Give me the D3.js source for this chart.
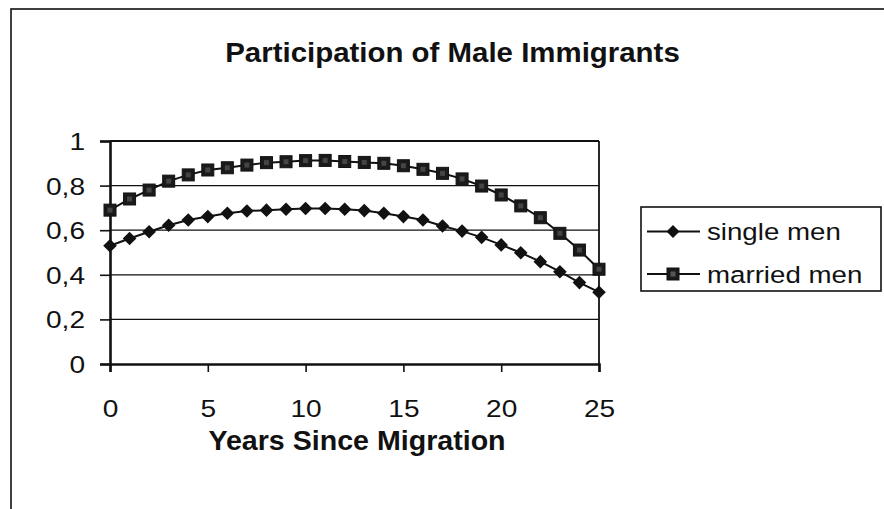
<!DOCTYPE html>
<html>
<head>
<meta charset="utf-8">
<script src="https://cdn.jsdelivr.net/npm/d3@7"></script>
<style>
  html, body { margin: 0; padding: 0; background: #fff; }
  svg { display: block; font-family: "Liberation Sans", Arial, sans-serif; }
</style>
</head>
<body>
<svg id="chart" width="884" height="509"></svg>
<script>
const years = [0,1,2,3,4,5,6,7,8,9,10,11,12,13,14,15,16,17,18,19,20,21,22,23,24,25];
const singleMen = [0.530,0.563,0.593,0.622,0.646,0.661,0.676,0.686,0.690,0.694,0.697,0.697,0.694,0.688,0.676,0.661,0.646,0.619,0.596,0.568,0.534,0.499,0.459,0.414,0.365,0.322];
const marriedMen = [0.690,0.740,0.780,0.820,0.848,0.870,0.880,0.892,0.903,0.907,0.912,0.913,0.908,0.904,0.900,0.889,0.873,0.855,0.830,0.798,0.758,0.709,0.656,0.586,0.511,0.425];
const seriesNames = ["single men", "married men"];
const xTicks = [0,5,10,15,20,25];
const yTicks = [0,0.2,0.4,0.6,0.8,1];
const titleText = "Participation of Male Immigrants";
const xTitleText = "Years Since Migration";

const svg = d3.select("#chart");
const plot = {left: 110, top: 141, right: 599, bottom: 364};

const x = d3.scaleLinear().domain([0, 25]).range([plot.left, plot.right]);
const y = d3.scaleLinear().domain([0, 1]).range([plot.bottom, plot.top]);

// outer chart border (extends beyond the frame on right/bottom)
svg.append("rect").attr("x", 11).attr("y", 9).attr("width", 950).attr("height", 600)
  .attr("fill", "none").attr("stroke", "#111").attr("stroke-width", 1.6);

// gridlines
svg.append("g").selectAll("line").data(yTicks.filter(d => d > 0 && d < 1)).join("line")
  .attr("x1", plot.left).attr("x2", plot.right)
  .attr("y1", d => y(d)).attr("y2", d => y(d))
  .attr("stroke", "#111").attr("stroke-width", 1.3);

// plot area frame top/right
svg.append("line").attr("x1", plot.left).attr("x2", plot.right).attr("y1", plot.top).attr("y2", plot.top)
  .attr("stroke", "#111").attr("stroke-width", 1.8);
svg.append("line").attr("x1", plot.right).attr("x2", plot.right).attr("y1", plot.top).attr("y2", plot.bottom)
  .attr("stroke", "#111").attr("stroke-width", 1.8);

// axes
const fmt = d => String(d3.format("~g")(d)).replace(".", ",");
const yAxis = svg.append("g").attr("transform", `translate(${plot.left},0)`)
  .call(d3.axisLeft(y).tickValues(yTicks).tickSize(10).tickFormat(fmt));
const xAxis = svg.append("g").attr("transform", `translate(0,${plot.bottom})`)
  .call(d3.axisBottom(x).tickValues(xTicks).tickSize(8).tickFormat(fmt));

[yAxis, xAxis].forEach(g => {
  g.select(".domain").attr("stroke", "#111").attr("stroke-width", 2.6);
  g.selectAll(".tick line").attr("stroke", "#111").attr("stroke-width", 1.6);
  g.selectAll(".tick text").attr("fill", "#111").attr("font-size", 24)
    .attr("font-family", "'Liberation Sans', Arial, sans-serif");
});
yAxis.selectAll(".tick text").attr("x", null).attr("dy", null)
  .attr("text-anchor", "end")
  .attr("transform", "translate(-25,8.5) scale(1.17,1)");
xAxis.selectAll(".tick text").attr("y", null).attr("dy", null)
  .attr("text-anchor", "middle")
  .attr("transform", "translate(0,52.5) scale(1.17,1)");

// lines
const line = d3.line().x((d, i) => x(years[i])).y(d => y(d));
[singleMen, marriedMen].forEach(vals => {
  svg.append("path").datum(vals).attr("d", line)
    .attr("fill", "none").attr("stroke", "#111").attr("stroke-width", 2);
});

// markers
const diamond = s => `M0,${-s}L${s},0L0,${s}L${-s},0Z`;
svg.append("g").selectAll("path").data(singleMen).join("path")
  .attr("transform", (d, i) => `translate(${x(years[i])},${y(d)})`)
  .attr("d", diamond(6.8)).attr("fill", "#111");
const sq = svg.append("g").selectAll("g").data(marriedMen).join("g")
  .attr("transform", (d, i) => `translate(${x(years[i])},${y(d)})`);
sq.append("rect").attr("x", -6).attr("y", -6).attr("width", 12).attr("height", 12)
  .attr("fill", "#1a1a1a").attr("stroke", "#111").attr("stroke-width", 1);
sq.append("rect").attr("x", -2.5).attr("y", -2.5).attr("width", 5).attr("height", 5)
  .attr("fill", "#444");

// title
svg.append("text").attr("text-anchor", "middle").attr("font-weight", "bold").attr("font-size", 27)
  .attr("fill", "#111")
  .attr("transform", "translate(452.5,62) scale(1.09,1)").text(titleText);
svg.append("text").attr("text-anchor", "middle").attr("font-weight", "bold").attr("font-size", 27.5)
  .attr("fill", "#111")
  .attr("transform", "translate(357,450) scale(1.04,1)").text(xTitleText);

// legend
const lg = svg.append("g");
lg.append("rect").attr("x", 641).attr("y", 207).attr("width", 240).attr("height", 84)
  .attr("fill", "#fff").attr("stroke", "#111").attr("stroke-width", 1.6);
const legendRows = [{name: seriesNames[0], y: 231.5, kind: "d"}, {name: seriesNames[1], y: 274, kind: "s"}];
legendRows.forEach(r => {
  lg.append("line").attr("x1", 647).attr("x2", 700).attr("y1", r.y).attr("y2", r.y)
    .attr("stroke", "#111").attr("stroke-width", 2);
  if (r.kind === "d") {
    lg.append("path").attr("transform", `translate(673,${r.y})`).attr("d", diamond(6.5)).attr("fill", "#111");
  } else {
    lg.append("rect").attr("x", 667).attr("y", r.y - 6).attr("width", 12).attr("height", 12)
      .attr("fill", "#1a1a1a").attr("stroke", "#111");
    lg.append("rect").attr("x", 670.5).attr("y", r.y - 2.5).attr("width", 5).attr("height", 5).attr("fill", "#555");
  }
  lg.append("text").attr("font-size", 24.5).attr("fill", "#111")
    .attr("transform", `translate(707,${r.y + 8.5}) scale(1.13,1)`).text(r.name);
});
</script>
</body>
</html>
